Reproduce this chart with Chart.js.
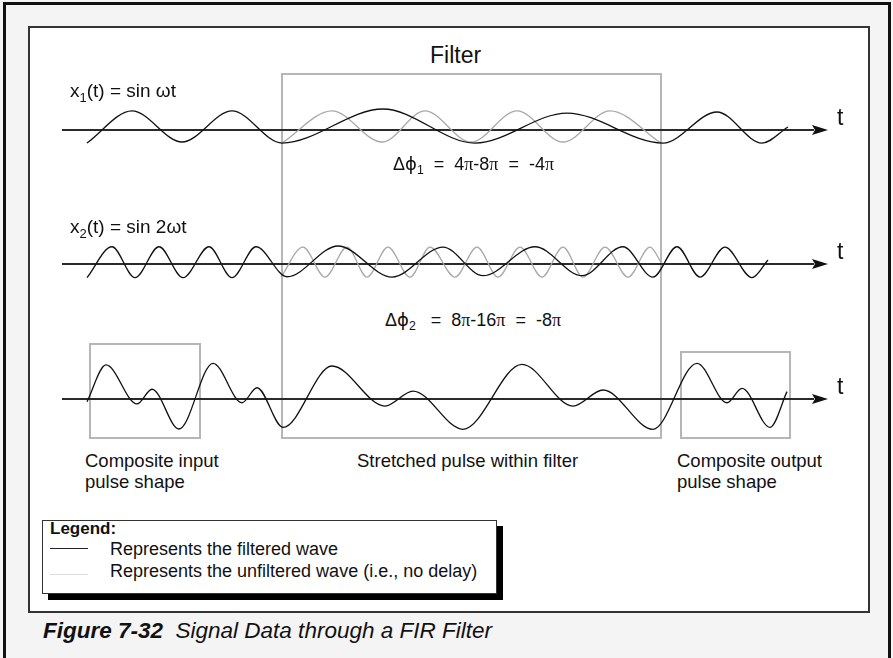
<!DOCTYPE html>
<html>
<head>
<meta charset="utf-8">
<script src="https://cdn.jsdelivr.net/npm/chart.js@4"></script>
<style>
  body { margin:0; width:893px; height:658px; overflow:hidden; position:relative; background:#f4f4f4;
         font-family:"Liberation Sans", Arial, Helvetica, sans-serif; color:#111; }
  .abs { position:absolute; }
  .frame { left:3px; top:2px; width:888px; height:720px; border:3px solid #111; box-sizing:border-box; background:#f4f4f4; }
  .panel { left:28px; top:26px; width:842px; height:587px; border:2px solid #333; box-sizing:border-box; background:#fff; }
  .box { border:2px solid #b6b6b6; box-sizing:border-box; }
  .txt { white-space:pre; line-height:1; font-size:18px; }
  .two { white-space:pre; line-height:21px; font-size:18.5px; }
  sub { font-size:0.68em; vertical-align:baseline; position:relative; top:0.35em; }
  .sym { font-family:"DejaVu Sans", "Liberation Sans", sans-serif; }
  .pi { font-family:"Liberation Serif", "DejaVu Serif", serif; }
  canvas { position:absolute; }
  .legend { left:42px; top:520px; width:455px; height:74px; border:1px solid #333; box-sizing:border-box;
            background:#fff; box-shadow:6px 6px 0 #000; }
  .sample { width:38px; height:0; }
</style>
</head>
<body>

<div class="abs frame"></div>
<div class="abs panel"></div>

<!-- filter and pulse boxes -->
<div class="abs box" style="left:281px; top:73px; width:381px; height:366px;"></div>
<div class="abs box" style="left:89px; top:343px; width:112px; height:96px;"></div>
<div class="abs box" style="left:680px; top:351px; width:111px; height:88px;"></div>

<canvas id="row1" width="800" height="90" style="left:51px; top:85px;"></canvas>
<canvas id="row2" width="800" height="90" style="left:51px; top:219px;"></canvas>
<canvas id="row3" width="800" height="90" style="left:51px; top:354px;"></canvas>

<div class="abs txt" style="left:430px; top:44px; font-size:23px;">Filter</div>
<div class="abs txt" style="left:70px; top:81px; font-size:19px;">x<sub>1</sub>(t) = sin ωt</div>
<div class="abs txt" style="left:393px; top:155px; font-size:18px;">Δ<span class="sym">ϕ</span><sub>1</sub>  =  4<span class="pi">π</span>-8<span class="pi">π</span>  =  -4<span class="pi">π</span></div>
<div class="abs txt" style="left:70px; top:217px; font-size:19px;">x<sub>2</sub>(t) = sin 2ωt</div>
<div class="abs txt" style="left:385px; top:311px; font-size:18px;">Δ<span class="sym">ϕ</span><sub>2</sub>   =  8<span class="pi">π</span>-16<span class="pi">π</span>  =  -8<span class="pi">π</span></div>

<div class="abs txt" style="left:837px; top:106px; font-size:23px;">t</div>
<div class="abs txt" style="left:837px; top:240px; font-size:23px;">t</div>
<div class="abs txt" style="left:837px; top:375px; font-size:23px;">t</div>

<div class="abs two" style="left:85px; top:450px;">Composite input
pulse shape</div>
<div class="abs two" style="left:357px; top:450px;">Stretched pulse within filter</div>
<div class="abs two" style="left:677px; top:450px;">Composite output
pulse shape</div>

<div class="abs legend"></div>
<div class="abs txt" style="left:50px; top:520px; font-weight:bold; font-size:17px;">Legend:</div>
<div class="abs sample" style="left:50px; top:548px; border-top:1.5px solid #222;"></div>
<div class="abs txt" style="left:110px; top:540px;">Represents the filtered wave</div>
<div class="abs sample" style="left:50px; top:574px; border-top:1.5px solid #dcdcdc;"></div>
<div class="abs txt" style="left:110px; top:562px;">Represents the unfiltered wave (i.e., no delay)</div>

<div class="abs txt" style="left:43px; top:620px; font-size:22.5px; font-style:italic;"><b>Figure 7-32</b>  Signal Data through a FIR Filter</div>

<script>
// time axis t is in units of ωt/π, filter spans t = 0 .. 7.6
// amplitude in arbitrary units, 0 on the t axis

// x1(t) = sin ωt
const row1FilteredT     = [-3.88, -2.98, -1.98, -0.98, 0.02, 2.04, 3.88, 5.72, 7.64, 8.72, 9.62, 10.14];
const row1FilteredAmp   = [-0.87, 1.27, -0.80, 1.27, -0.87, 1.40, -0.87, 1.13, -0.87, 1.20, -0.87, 0.20];
const row1UnfilteredT   = [0.02, 1.02, 2.02, 2.88, 3.80, 4.72, 5.64, 6.58, 7.60];
const row1UnfilteredAmp = [-0.87, 1.27, -0.80, 1.27, -0.80, 1.27, -0.80, 1.27, -0.87];

// x2(t) = sin 2ωt
const row2FilteredT     = [-3.88, -3.38, -2.92, -2.44, -1.96, -1.44, -0.98, -0.50, 0.12, 1.14, 2.22,
                           3.24, 4.04, 5.08, 6.02, 6.84, 7.44, 7.92, 8.38, 8.88, 9.42, 9.74];
const row2FilteredAmp   = [-0.91, 1.15, -0.91, 1.15, -0.91, 1.15, -0.91, 1.15, -0.85, 1.20, -0.87,
                           1.13, -0.78, 1.15, -0.78, 1.15, -0.87, 1.15, -0.87, 1.13, -0.91, 0.27];
const row2UnfilteredT   = [0.00, 0.44, 0.88, 1.32, 1.72, 2.14, 2.58, 2.98, 3.48, 3.92,
                           4.34, 4.78, 5.22, 5.64, 6.04, 6.48, 6.94, 7.38, 7.60];
const row2UnfilteredAmp = [-0.87, 1.13, -0.87, 1.13, -0.87, 1.13, -0.87, 1.13, -0.87, 1.13,
                           -0.87, 1.13, -0.87, 1.13, -0.87, 1.13, -0.87, 1.13, 0.13];

// composite pulse
const row3T   = [-3.88, -3.50, -2.88, -2.58, -2.04, -1.36, -0.78, -0.48, 0.04, 1.02, 2.08,
                 2.64, 3.64, 4.82, 5.84, 6.44, 7.44, 8.32, 8.92, 9.22, 9.78, 10.12];
const row3Amp = [-0.18, 2.27, -0.33, 0.65, -2.00, 2.38, -0.25, 0.75, -1.89, 2.20, -0.47,
                 0.53, -2.02, 2.31, -0.47, 0.60, -2.02, 2.38, -0.25, 0.71, -1.89, 0.49];

const X_MIN = -4.6, X_MAX = 11.4;
const Y_MIN = -3, Y_MAX = 3;
const AXIS_START = -4.38, ARROW_BASE = 10.62, ARROW_TIP = 10.94;

const FILTERED = "#111111";
const UNFILTERED = "#a8a8a8";

// t axis with arrow head
const tAxis = {
    id: "tAxis",
    beforeDatasetsDraw(chart) {
        const { ctx, scales: { x, y } } = chart;
        const y0 = y.getPixelForValue(0);
        const x0 = x.getPixelForValue(AXIS_START);
        const xb = x.getPixelForValue(ARROW_BASE);
        const xt = x.getPixelForValue(ARROW_TIP);
        ctx.save();
        ctx.strokeStyle = "#2a2a2a";
        ctx.lineWidth = 2;
        ctx.beginPath();
        ctx.moveTo(x0, y0);
        ctx.lineTo(xb + 2, y0);
        ctx.stroke();
        ctx.fillStyle = "#111";
        ctx.beginPath();
        ctx.moveTo(xt, y0);
        ctx.lineTo(xb, y0 - 5);
        ctx.lineTo(xb + 3, y0);
        ctx.lineTo(xb, y0 + 5);
        ctx.closePath();
        ctx.fill();
        ctx.restore();
    }
};

function points(ts, amps) {
    return ts.map((t, i) => ({ x: t, y: amps[i] }));
}

function drawRow(id, series) {
    new Chart(document.getElementById(id), {
        type: "line",
        data: {
            datasets: series.map(s => ({
                data: points(s.t, s.amp),
                borderColor: s.color,
                borderWidth: 1.3,
                pointRadius: 0,
                fill: false,
                cubicInterpolationMode: "monotone",
                clip: false
            }))
        },
        options: {
            responsive: false,
            animation: false,
            events: [],
            layout: { padding: 0 },
            plugins: {
                legend: { display: false },
                tooltip: { enabled: false }
            },
            scales: {
                x: { type: "linear", min: X_MIN, max: X_MAX, display: false },
                y: { min: Y_MIN, max: Y_MAX, display: false }
            }
        },
        plugins: [tAxis]
    });
}

drawRow("row1", [
    { t: row1FilteredT, amp: row1FilteredAmp, color: FILTERED },
    { t: row1UnfilteredT, amp: row1UnfilteredAmp, color: UNFILTERED }
]);
drawRow("row2", [
    { t: row2FilteredT, amp: row2FilteredAmp, color: FILTERED },
    { t: row2UnfilteredT, amp: row2UnfilteredAmp, color: UNFILTERED }
]);
drawRow("row3", [
    { t: row3T, amp: row3Amp, color: FILTERED }
]);
</script>
</body>
</html>
